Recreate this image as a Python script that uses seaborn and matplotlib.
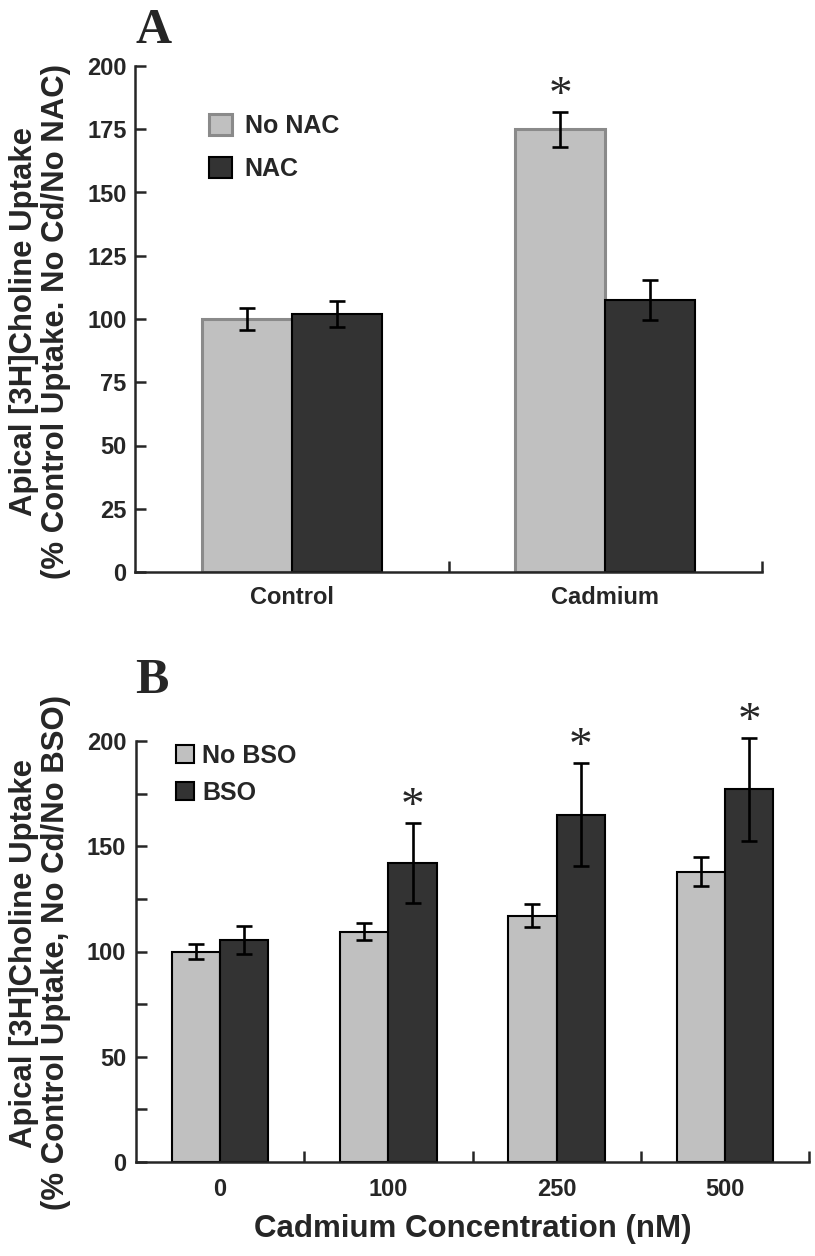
import matplotlib
matplotlib.use("Agg")
import matplotlib.pyplot as plt
import seaborn as sns
import pandas as pd
from matplotlib.ticker import FixedLocator, NullFormatter

# ---------------- data ----------------
a_groups = ["Control", "Cadmium"]
a_series = ["No NAC", "NAC"]
a_no_nac = [100, 175]
a_no_nac_err = [4.3, 7]
a_nac = [102, 107.5]
a_nac_err = [5, 7.8]
a_star_no_nac = [False, True]

b_groups = ["0", "100", "250", "500"]
b_series = ["No BSO", "BSO"]
b_no_bso = [100, 109.5, 117, 138]
b_no_bso_err = [3.5, 4, 5.5, 7]
b_bso = [105.5, 142, 165, 177]
b_bso_err = [6.5, 19, 24.5, 24.5]
b_star_bso = [False, True, True, True]

a_yticks = [0, 25, 50, 75, 100, 125, 150, 175, 200]
b_yticks = [0, 50, 100, 150, 200]
b_yminor = [25, 75, 125, 175]

a_ylabel = "Apical [3H]Choline Uptake\n(% Control Uptake. No Cd/No NAC)"
b_ylabel = "Apical [3H]Choline Uptake\n(% Control Uptake, No Cd/No BSO)"
b_xlabel = "Cadmium Concentration (nM)"

# ---------------- style ----------------
sns.set_style("white")
plt.rcParams["font.family"] = ["Liberation Sans", "DejaVu Sans"]
plt.rcParams["font.weight"] = "bold"

LIGHT = "#c0c0c0"
DARK = "#333333"
W, H = 815, 1256
fig = plt.figure(figsize=(W / 100, H / 100), dpi=100)

def fx(px):
    return px / W

def fy(py):
    return 1 - py / H

axA = fig.add_axes([fx(135), fy(572), fx(762) - fx(135), fy(66) - fy(572)])
axB = fig.add_axes([fx(136), fy(1162), fx(809) - fx(136), fy(741) - fy(1162)])


def make_df(groups, series, v1, v2):
    rows = []
    for g, a in zip(groups, v1):
        rows.append({"group": g, "series": series[0], "value": a})
    for g, b in zip(groups, v2):
        rows.append({"group": g, "series": series[1], "value": b})
    return pd.DataFrame(rows)


def draw_panel(ax, groups, series, v1, e1, v2, e2, first_edge, first_lw):
    df = make_df(groups, series, v1, v2)
    sns.barplot(data=df, x="group", y="value", hue="series", order=groups,
                hue_order=series, palette=[LIGHT, DARK], width=0.575,
                errorbar=None, saturation=1, ax=ax, zorder=2)
    c0, c1 = ax.containers[0], ax.containers[1]
    for p in c0:
        p.set_edgecolor(first_edge)
        p.set_linewidth(first_lw)
    for p in c1:
        p.set_edgecolor("black")
        p.set_linewidth(1.5)
    for cont, vals, errs in ((c0, v1, e1), (c1, v2, e2)):
        xs = [p.get_x() + p.get_width() / 2 for p in cont]
        eb = ax.errorbar(xs, vals, yerr=errs, fmt="none", ecolor="black",
                         elinewidth=1.9, capsize=5.8, capthick=1.9, zorder=3)
        for art in eb.lines[1] + eb.lines[2]:
            art.set_clip_on(False)
    return c0, c1


def star(ax, p, top):
    ax.annotate("*", xy=(p.get_x() + p.get_width() / 2, top),
                xytext=(0, -4.5), textcoords="offset points", ha="center",
                va="bottom", fontsize=34, family="Liberation Serif",
                fontweight="normal", annotation_clip=False)


# ---------- Panel A ----------
c0, c1 = draw_panel(axA, a_groups, a_series, a_no_nac, a_no_nac_err, a_nac,
                    a_nac_err, "#8a8a8a", 2.2)
for p, v, e, s in zip(c0, a_no_nac, a_no_nac_err, a_star_no_nac):
    if s:
        star(axA, p, v + e)

axA.set_ylim(0, 200)
axA.set_xlim(-0.5, 1.5)
axA.set_yticks(a_yticks)
axA.set_yticklabels([str(t) for t in a_yticks])

# ---------- Panel B ----------
d0, d1 = draw_panel(axB, b_groups, b_series, b_no_bso, b_no_bso_err, b_bso,
                    b_bso_err, "black", 1.5)
for p, v, e, s in zip(d1, b_bso, b_bso_err, b_star_bso):
    if s:
        star(axB, p, v + e)
axB.set_ylim(0, 200)
axB.set_xlim(-0.5, 3.5)
axB.set_yticks(b_yticks)
axB.set_yticklabels([str(t) for t in b_yticks])
axB.yaxis.set_minor_locator(FixedLocator(b_yminor))
axB.yaxis.set_minor_formatter(NullFormatter())

# ---------- common axis styling ----------
for ax, n, ypad, xpad in ((axA, len(a_groups), 6, 10), (axB, len(b_groups), 7, 11.5)):
    sns.despine(ax=ax)
    ax.spines["left"].set_linewidth(1.8)
    ax.spines["bottom"].set_linewidth(1.8)
    ax.set_xlabel("")
    ax.set_ylabel("")
    ax.xaxis.set_minor_locator(FixedLocator([i + 0.5 for i in range(n)]))
    ax.tick_params(axis="x", which="major", length=0, pad=xpad, labelsize=17)
    ax.tick_params(axis="x", which="minor", direction="in", length=8, width=1.8,
                   bottom=True)
    ax.tick_params(axis="y", which="both", direction="in", length=8, width=1.8,
                   pad=ypad, labelsize=17, left=True)
    for lab in ax.get_xticklabels() + ax.get_yticklabels():
        lab.set_fontweight("bold")

# legends
legA = axA.get_legend()
hA = legA.legend_handles
lA = [t.get_text() for t in legA.get_texts()]
legA.remove()
legA = axA.legend(hA, lA, loc="upper left", bbox_to_anchor=(fx(209), fy(114)),
                  bbox_transform=fig.transFigure, frameon=False, borderpad=0,
                  borderaxespad=0, handlelength=0.92, handleheight=0.92,
                  handletextpad=0.5, labelspacing=0.75,
                  prop={"size": 18, "weight": "bold"})
legA.legend_handles[0].set_edgecolor("#8a8a8a")
legA.legend_handles[0].set_linewidth(2.2)
legA.legend_handles[1].set_edgecolor("black")
legA.legend_handles[1].set_linewidth(1.5)

legB = axB.get_legend()
hB = legB.legend_handles
lB = [t.get_text() for t in legB.get_texts()]
legB.remove()
legB = axB.legend(hB, lB, loc="upper left", bbox_to_anchor=(fx(176), fy(744)),
                  bbox_transform=fig.transFigure, frameon=False, borderpad=0,
                  borderaxespad=0, handlelength=0.72, handleheight=0.72,
                  handletextpad=0.32, labelspacing=0.5,
                  prop={"size": 18, "weight": "bold"})
for hdl in legB.legend_handles:
    hdl.set_edgecolor("black")
    hdl.set_linewidth(1.5)

# y labels
fig.text(fx(40), fy(321), a_ylabel, rotation=90, ha="center", va="center",
         fontsize=22.4, fontweight="bold", multialignment="center",
         linespacing=1.1)
fig.text(fx(40), fy(953), b_ylabel, rotation=90, ha="center", va="center",
         fontsize=22.4, fontweight="bold", multialignment="center",
         linespacing=1.1)

# x label B
fig.text(fx(473), fy(1229), b_xlabel, ha="center", va="center", fontsize=22.5,
         fontweight="bold")

# panel letters
fig.text(fx(135), fy(43), "A", ha="left", va="baseline", fontsize=36,
         family="Liberation Serif", fontweight="bold")
fig.text(fx(135), fy(693), "B", ha="left", va="baseline", fontsize=36,
         family="Liberation Serif", fontweight="bold")

fig.savefig("out.png", dpi=100)
